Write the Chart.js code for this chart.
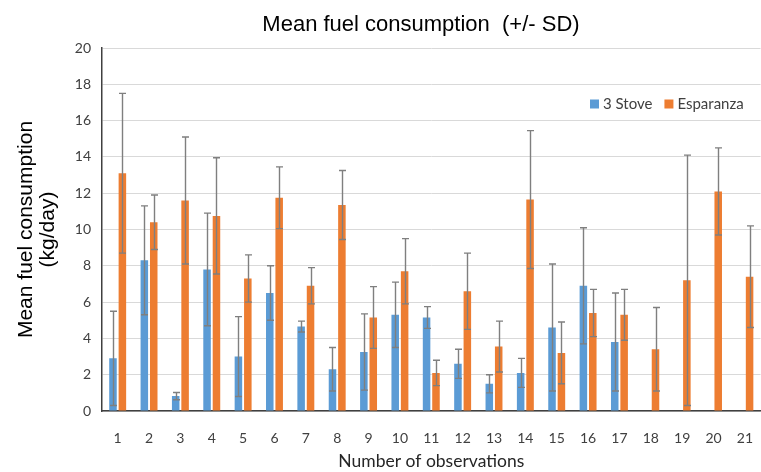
<!DOCTYPE html>
<html>
<head>
<meta charset="utf-8">
<script src="https://cdn.jsdelivr.net/npm/chart.js@4.4.1/dist/chart.umd.min.js"></script>
<style>
  html, body { margin: 0; padding: 0; background: #fff; overflow: hidden; }
  #wrap { width: 772px; height: 472px; }
</style>
</head>
<body>
<div id="wrap"><canvas id="c" width="772" height="472"></canvas></div>
<script>
const categories = ['1','2','3','4','5','6','7','8','9','10','11','12','13','14','15','16','17','18','19','20','21'];
const stoveMean = [2.9, 8.3, 0.82, 7.8, 3.0, 6.5, 4.65, 2.3, 3.25, 5.3, 5.15, 2.6, 1.5, 2.1, 4.6, 6.9, 3.8, null, null, null, null];
const stoveSD   = [2.6, 3.0, 0.2, 3.1, 2.2, 1.5, 0.3, 1.2, 2.1, 1.8, 0.6, 0.8, 0.5, 0.8, 3.5, 3.2, 2.7, null, null, null, null];
const esparanzaMean = [13.1, 10.4, 11.6, 10.75, 7.3, 11.75, 6.9, 11.35, 5.15, 7.7, 2.1, 6.6, 3.55, 11.65, 3.2, 5.4, 5.3, 3.4, 7.2, 12.1, 7.4];
const esparanzaSD   = [4.4, 1.5, 3.5, 3.2, 1.3, 1.7, 1.0, 1.9, 1.7, 1.8, 0.7, 2.1, 1.4, 3.8, 1.7, 1.3, 1.4, 2.3, 6.9, 2.4, 2.8];
const yTicks = [0, 2, 4, 6, 8, 10, 12, 14, 16, 18, 20];
const chartTitle = 'Mean fuel consumption  (+/- SD)';

const sdByDataset = [stoveSD, esparanzaSD];

const errorBars = {
  id: 'errorBars',
  afterDatasetsDraw(chart) {
    const ctx = chart.ctx;
    const y = chart.scales.y;
    ctx.save();
    ctx.strokeStyle = '#7f7f7f';
    ctx.lineWidth = 1.4;
    chart.data.datasets.forEach((ds, di) => {
      const meta = chart.getDatasetMeta(di);
      const sds = sdByDataset[di];
      meta.data.forEach((bar, i) => {
        const v = ds.data[i];
        const sd = sds[i];
        if (v == null || sd == null) return;
        const x = Math.round(bar.x) + 0.5;
        const yt = y.getPixelForValue(v + sd);
        const yb = y.getPixelForValue(Math.max(v - sd, 0));
        const hw = 3.5;
        ctx.beginPath();
        ctx.moveTo(x, yt); ctx.lineTo(x, yb);
        ctx.moveTo(x - hw, yt); ctx.lineTo(x + hw, yt);
        ctx.moveTo(x - hw, yb); ctx.lineTo(x + hw, yb);
        ctx.stroke();
      });
    });
    ctx.restore();
  }
};

const customLegend = {
  id: 'customLegend',
  afterDraw(chart) {
    const ctx = chart.ctx;
    const a = chart.chartArea;
    ctx.save();
    ctx.font = '15px Lato';
    ctx.textBaseline = 'middle';
    let x = a.left + 488;
    const yc = a.top + 56;
    chart.data.datasets.forEach((ds) => {
      ctx.fillStyle = ds.backgroundColor;
      ctx.fillRect(x, yc - 4.5, 9, 9);
      x += 13;
      ctx.fillStyle = '#404040';
      ctx.fillText(ds.label, x, yc + 0.5);
      x += ctx.measureText(ds.label).width + 12;
    });
    ctx.restore();
  }
};

const titlePlugin = {
  id: 'titlePlugin',
  afterDraw(chart) {
    const ctx = chart.ctx;
    const a = chart.chartArea;
    ctx.save();
    ctx.font = '22px "Liberation Sans"';
    ctx.fillStyle = '#000';
    ctx.textAlign = 'center';
    ctx.textBaseline = 'middle';
    ctx.fillText(chartTitle, a.left + 319, a.top - 23);
    ctx.restore();
  }
};

new Chart(document.getElementById('c'), {
  type: 'bar',
  data: {
    labels: categories,
    datasets: [
      { label: '3 Stove', data: stoveMean, backgroundColor: '#5B9BD5', categoryPercentage: 0.6, barPercentage: 0.8 },
      { label: 'Esparanza', data: esparanzaMean, backgroundColor: '#ED7D31', categoryPercentage: 0.6, barPercentage: 0.8 }
    ]
  },
  options: {
    responsive: false,
    animation: false,
    layout: { padding: { left: 0, right: 0, top: 48, bottom: 0 } },
    plugins: {
      legend: { display: false },
      tooltip: { enabled: false },
      title: { display: false }
    },
    scales: {
      x: {
        grid: { display: false, drawTicks: false },
        border: { display: true, color: '#404040', width: 1.5 },
        ticks: { color: '#404040', font: { family: 'Lato', size: 14 }, padding: 19, maxRotation: 0, autoSkip: false },
        title: {
          display: true,
          text: 'Number of observations',
          color: '#262626',
          font: { family: 'Lato', size: 17.5, lineHeight: 1.2 },
          padding: { top: 0, bottom: 0 }
        },
        afterFit(scale) { scale.height = 61; }
      },
      y: {
        min: 0, max: 20,
        afterBuildTicks(scale) { scale.ticks = yTicks.map(v => ({ value: v })); },
        grid: { color: '#d9d9d9', lineWidth: 1, drawTicks: false },
        border: { display: true, color: '#404040', width: 1.5 },
        ticks: { color: '#404040', font: { family: 'Lato', size: 14 }, padding: 11 },
        title: {
          display: true,
          text: ['Mean fuel consumption', '(kg/day)'],
          color: '#000',
          font: { family: 'Liberation Sans', size: 21, lineHeight: 1.05 },
          padding: { top: 15, bottom: 0 }
        },
        afterFit(scale) { scale.width = 102; }
      }
    }
  },
  plugins: [errorBars, customLegend, titlePlugin]
});
</script>
</body>
</html>
